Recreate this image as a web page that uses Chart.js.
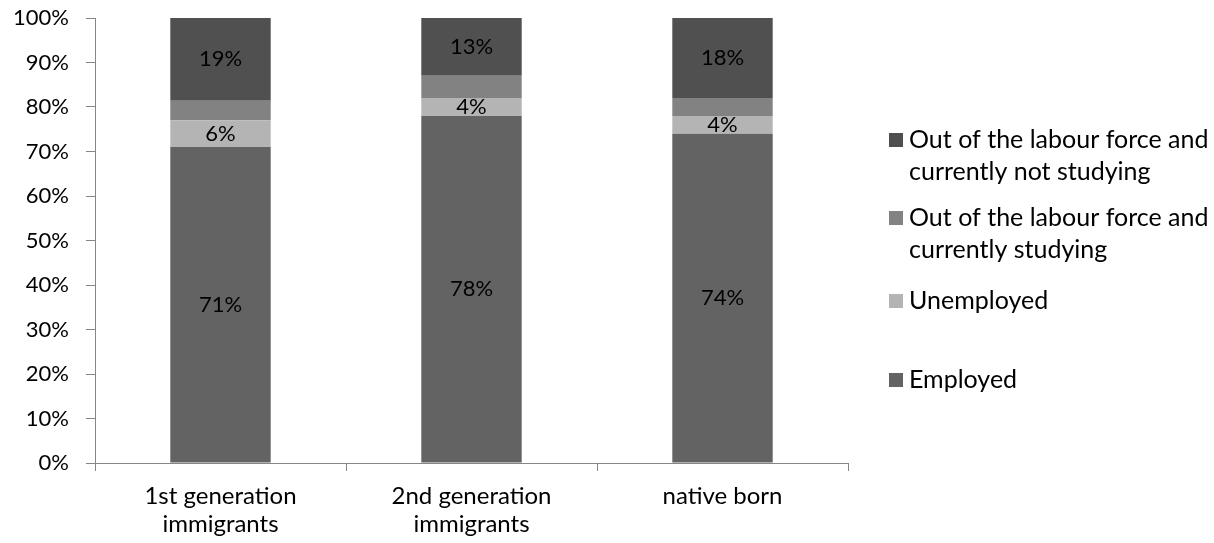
<!DOCTYPE html>
<html>
<head>
<meta charset="utf-8">
<script src="https://cdn.jsdelivr.net/npm/chart.js@4.4.1/dist/chart.umd.min.js"></script>
<style>
  html, body { margin: 0; padding: 0; background: #ffffff; }
  #wrap { width: 1214px; height: 543px; }
</style>
</head>
<body>
<div id="wrap"><canvas id="c" width="1214" height="543"></canvas></div>
<script>
// Population groups on the category axis
const categories = [['1st generation', 'immigrants'], ['2nd generation', 'immigrants'], 'native born'];

// Share of each group by activity status (%)
const employed    = [71, 78, 74];
const unemployed  = [6, 4, 4];
const studying    = [4.4, 5, 4];
const notStudying = [19, 13, 18];

// Value-axis tick labels
const yTickValues = [0, 10, 20, 30, 40, 50, 60, 70, 80, 90, 100];

const seriesNames = [
  'Employed',
  'Unemployed',
  ['Out of the labour force and', 'currently studying'],
  ['Out of the labour force and', 'currently not studying']
];
const seriesData = [employed, unemployed, studying, notStudying];
const seriesColors = ['#636363', '#b4b4b4', '#828282', '#505050'];
const seriesLabelled = [true, true, false, true];

const FONT = 'Lato, "Open Sans", sans-serif';
const AXIS_COLOR = '#868686';

// Percentage labels centred in each segment
const segmentLabels = {
  id: 'segmentLabels',
  afterDatasetsDraw(chart) {
    const ctx = chart.ctx;
    ctx.save();
    ctx.font = '22px ' + FONT;
    ctx.fillStyle = '#000000';
    ctx.textAlign = 'center';
    ctx.textBaseline = 'middle';
    chart.data.datasets.forEach((ds, i) => {
      if (!seriesLabelled[i]) return;
      chart.getDatasetMeta(i).data.forEach((bar, j) => {
        const p = bar.getProps(['x', 'y', 'base'], true);
        ctx.fillText(Math.round(ds.data[j]) + '%', p.x, (p.y + p.base) / 2);
      });
    });
    ctx.restore();
  }
};

// Legend on the right, top series first, with wrapped names
const sideLegend = {
  id: 'sideLegend',
  afterDraw(chart) {
    const ctx = chart.ctx;
    const left = chart.chartArea.right + 41;
    const slots = [140, 218, 301, 380];
    const lineGap = 32;
    const box = 14;
    ctx.save();
    ctx.font = '25px ' + FONT;
    ctx.textAlign = 'left';
    ctx.textBaseline = 'middle';
    const order = chart.data.datasets.map((d, i) => i).reverse();
    order.forEach((di, k) => {
      const ds = chart.data.datasets[di];
      const y = slots[k];
      ctx.fillStyle = ds.backgroundColor;
      ctx.fillRect(left, y - box / 2, box, box);
      ctx.fillStyle = '#000000';
      const lines = Array.isArray(ds.label) ? ds.label : [ds.label];
      lines.forEach((t, li) => ctx.fillText(t, left + box + 6, y + li * lineGap));
    });
    ctx.restore();
  }
};

new Chart(document.getElementById('c'), {
  type: 'bar',
  data: {
    labels: categories,
    datasets: seriesData.map((d, i) => ({
      label: seriesNames[i],
      data: d,
      backgroundColor: seriesColors[i],
      borderWidth: 0,
      barPercentage: 0.4,
      categoryPercentage: 1.0
    }))
  },
  options: {
    responsive: false,
    animation: false,
    layout: { padding: { top: 18, right: 366, bottom: 0, left: 0 } },
    plugins: {
      legend: { display: false },
      tooltip: { enabled: false }
    },
    scales: {
      x: {
        stacked: true,
        offset: true,
        grid: { display: true, drawOnChartArea: false, offset: true, tickLength: 8, color: AXIS_COLOR },
        border: { color: AXIS_COLOR },
        ticks: { color: '#000000', font: { family: FONT, size: 24, lineHeight: 1.17 }, padding: 11, maxRotation: 0 },
        afterFit(scale) { scale.height = 80; }
      },
      y: {
        stacked: true,
        min: 0,
        max: 100,
        afterBuildTicks(scale) { scale.ticks = yTickValues.map(v => ({ value: v })); },
        grid: { display: true, drawOnChartArea: false, tickLength: 9, color: AXIS_COLOR },
        border: { color: AXIS_COLOR },
        ticks: { color: '#000000', font: { family: FONT, size: 22 }, padding: 17, callback: v => v + '%' },
        afterFit(scale) { scale.width = 95; scale.paddingTop = 0; scale.paddingBottom = 0; }
      }
    }
  },
  plugins: [segmentLabels, sideLegend]
});
</script>
</body>
</html>
